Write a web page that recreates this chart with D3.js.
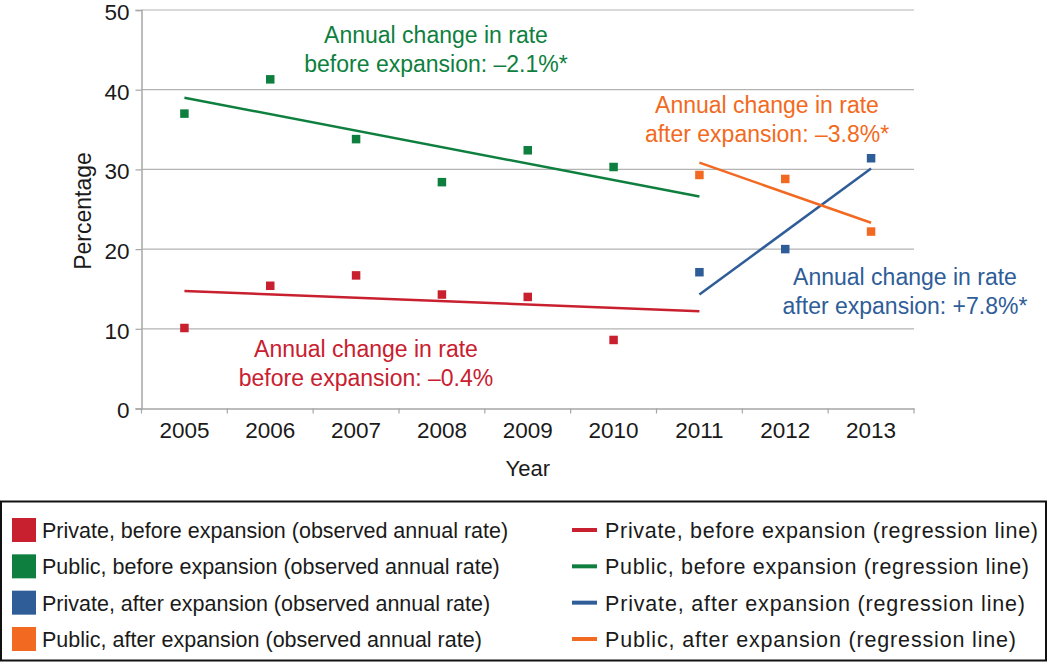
<!DOCTYPE html>
<html>
<head>
<meta charset="utf-8">
<script src="https://cdn.jsdelivr.net/npm/d3@7"></script>
<style>
  body { margin: 0; background: #fff; }
  svg { font-family: "Liberation Sans", Arial, sans-serif; }
</style>
</head>
<body>
<svg id="chart" width="1050" height="663"></svg>
<script>
const years = ['2005', '2006', '2007', '2008', '2009', '2010', '2011', '2012', '2013'];
const yTicks = [0, 10, 20, 30, 40, 50];

// observed annual rates
const privateBefore = [['2005', 10.1], ['2006', 15.4], ['2007', 16.7], ['2008', 14.3], ['2009', 14.0], ['2010', 8.6]];
const publicBefore = [['2005', 37.0], ['2006', 41.3], ['2007', 33.8], ['2008', 28.4], ['2009', 32.4], ['2010', 30.3]];
const privateAfter = [['2011', 17.1], ['2012', 20.0], ['2013', 31.4]];
const publicAfter = [['2011', 29.3], ['2012', 28.8], ['2013', 22.2]];

// regression line end points
const privateBeforeReg = [['2005', 14.75], ['2011', 12.2]];
const publicBeforeReg = [['2005', 39.0], ['2011', 26.6]];
const privateAfterReg = [['2011', 14.3], ['2013', 30.1]];
const publicAfterReg = [['2011', 30.85], ['2013', 23.3]];

const colors = { red: '#c8202f', green: '#0e7f3e', blue: '#2e5d98', orange: '#f26a21' };

const svg = d3.select('#chart');
const margin = { left: 141.5, right: 136, top: 10, bottom: 255 };
const W = 1050, H = 663;

const x = d3.scaleBand().domain(years).range([margin.left, W - margin.right]);
const y = d3.scaleLinear().domain([0, 50]).range([H - margin.bottom + 0.5, margin.top]);

// gridlines
svg.append('g')
  .selectAll('line')
  .data(yTicks.filter(d => d > 0))
  .join('line')
  .attr('x1', margin.left).attr('x2', W - margin.right)
  .attr('y1', d => y(d)).attr('y2', d => y(d))
  .attr('stroke', '#b3b3b3').attr('stroke-width', 1.2);

// y axis
const yAxis = svg.append('g')
  .attr('transform', `translate(${margin.left},0)`)
  .call(d3.axisLeft(y).tickValues(yTicks).tickSize(6).tickPadding(6));
yAxis.select('.domain').attr('stroke', '#a6a6a6').attr('stroke-width', 1.5);
yAxis.selectAll('.tick line').attr('stroke', '#a6a6a6').attr('stroke-width', 1.2);
yAxis.selectAll('text').attr('font-size', 22.5).attr('fill', '#1a1a1a')
  .attr('font-family', '"Liberation Sans", Arial, sans-serif').attr('dy', '0.42em');

// x axis
const xAxis = svg.append('g')
  .attr('transform', `translate(0,${y(0)})`)
  .call(d3.axisBottom(x).tickSizeInner(0).tickSizeOuter(0).tickPadding(14));
xAxis.select('.domain').attr('stroke', '#a6a6a6').attr('stroke-width', 1.5);
xAxis.selectAll('text').attr('font-size', 22.5).attr('fill', '#1a1a1a')
  .attr('font-family', '"Liberation Sans", Arial, sans-serif');
xAxis.append('g')
  .selectAll('line')
  .data(years.map(d => x(d)).concat([x.range()[1]]))
  .join('line')
  .attr('x1', d => d).attr('x2', d => d)
  .attr('y1', 0).attr('y2', 5)
  .attr('stroke', '#a6a6a6').attr('stroke-width', 1.2);

// axis titles
svg.append('text')
  .attr('x', x('2009') + x.bandwidth() / 2).attr('y', 476)
  .attr('text-anchor', 'middle').attr('font-size', 22).attr('fill', '#1a1a1a')
  .text('Year');
svg.append('text')
  .attr('transform', 'translate(91,211) rotate(-90)')
  .attr('text-anchor', 'middle').attr('font-size', 23).attr('fill', '#1a1a1a')
  .text('Percentage');

const cx = d => x(d[0]) + x.bandwidth() / 2;
const line = d3.line().x(cx).y(d => y(d[1]));

const regs = [
  [privateBeforeReg, colors.red],
  [publicBeforeReg, colors.green],
  [privateAfterReg, colors.blue],
  [publicAfterReg, colors.orange]
];
regs.forEach(([data, c]) => {
  svg.append('path').datum(data)
    .attr('d', line).attr('fill', 'none')
    .attr('stroke', c).attr('stroke-width', 2.5);
});

const obs = [
  [privateBefore, colors.red],
  [publicBefore, colors.green],
  [privateAfter, colors.blue],
  [publicAfter, colors.orange]
];
const sq = 8.5;
obs.forEach(([data, c]) => {
  svg.append('g').selectAll('rect').data(data).join('rect')
    .attr('x', d => cx(d) - sq / 2).attr('y', d => y(d[1]) - sq / 2)
    .attr('width', sq).attr('height', sq).attr('fill', c);
});

// annotations
const notes = [
  { x: 436, y: 43, c: colors.green, lines: ['Annual change in rate', 'before expansion: \u20132.1%*'] },
  { x: 366, y: 357, c: colors.red, lines: ['Annual change in rate', 'before expansion: \u20130.4%'] },
  { x: 767, y: 113, c: colors.orange, lines: ['Annual change in rate', 'after expansion: \u20133.8%*'] },
  { x: 905, y: 285, c: colors.blue, lines: ['Annual change in rate', 'after expansion: +7.8%*'] }
];
notes.forEach(n => {
  const t = svg.append('text')
    .attr('text-anchor', 'middle').attr('font-size', 23).attr('fill', n.c);
  n.lines.forEach((l, i) => {
    t.append('tspan').attr('x', n.x).attr('y', n.y + i * 28.5).text(l);
  });
});

// legend
const legendLeft = [
  ['Private, before expansion (observed annual rate)', colors.red],
  ['Public, before expansion (observed annual rate)', colors.green],
  ['Private, after expansion (observed annual rate)', colors.blue],
  ['Public, after expansion (observed annual rate)', colors.orange]
];
const legendRight = [
  ['Private, before expansion (regression line)', colors.red],
  ['Public, before expansion (regression line)', colors.green],
  ['Private, after expansion (regression line)', colors.blue],
  ['Public, after expansion (regression line)', colors.orange]
];
const legend = svg.append('g');
legend.append('rect')
  .attr('x', 1).attr('y', 501.5).attr('width', 1045).attr('height', 159)
  .attr('fill', 'none').attr('stroke', '#111').attr('stroke-width', 2);

const rowY = d3.scalePoint().domain(d3.range(4)).range([530, 639]);

legend.selectAll('.sw').data(legendLeft).join('rect')
  .attr('x', 12).attr('y', (d, i) => rowY(i) - 12)
  .attr('width', 24).attr('height', 24).attr('fill', d => d[1]);
legend.selectAll('.tl').data(legendLeft).join('text')
  .attr('x', 42).attr('y', (d, i) => rowY(i) + 8)
  .attr('font-size', 21.5).attr('fill', '#1a1a1a')
  .text(d => d[0]);

// right column text runs wider in the reference
const rightWidths = [433, 424, 420, 411];
legend.selectAll('.ln').data(legendRight).join('line')
  .attr('x1', 572).attr('x2', 597)
  .attr('y1', (d, i) => rowY(i)).attr('y2', (d, i) => rowY(i))
  .attr('stroke', d => d[1]).attr('stroke-width', 4);
legend.selectAll('.tr').data(legendRight).join('text')
  .attr('x', 605).attr('y', (d, i) => rowY(i) + 8)
  .attr('font-size', 21.5).attr('fill', '#1a1a1a')
  .attr('textLength', (d, i) => rightWidths[i]).attr('lengthAdjust', 'spacing')
  .text(d => d[0]);
</script>
</body>
</html>
